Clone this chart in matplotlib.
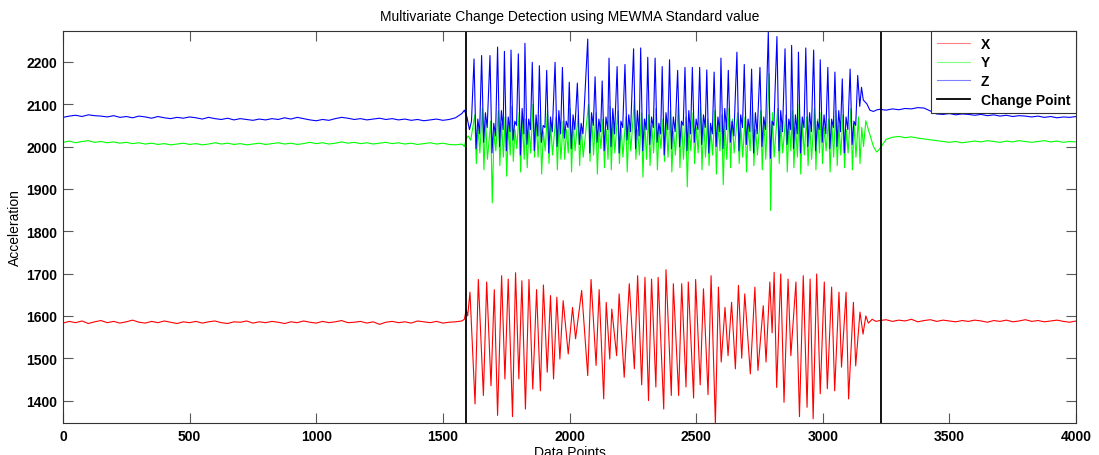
import matplotlib
matplotlib.use('Agg')
import matplotlib.pyplot as plt
import numpy as np

plt.rcParams['font.family'] = ['Liberation Sans', 'DejaVu Sans']

# Quiet part before the first change point (read every 25 points)
x_pre = [1583, 1587, 1584, 1588, 1582, 1586, 1589, 1584, 1587, 1583,
         1586, 1590, 1585, 1583, 1587, 1584, 1588, 1585, 1582, 1586,
         1584, 1587, 1583, 1586, 1588, 1584, 1582, 1586, 1585, 1588,
         1583, 1586, 1584, 1587, 1585, 1582, 1586, 1584, 1588, 1585,
         1583, 1587, 1584, 1586, 1589, 1584, 1585, 1587, 1583, 1586,
         1580, 1585, 1587, 1584, 1586, 1583, 1588, 1586, 1584, 1587,
         1583, 1585, 1586, 1588]
y_pre = [2010, 2013, 2009, 2012, 2014, 2010, 2012, 2009, 2011, 2008,
         2010, 2007, 2009, 2006, 2008, 2005, 2007, 2004, 2006, 2008,
         2005, 2007, 2004, 2006, 2009, 2006, 2008, 2005, 2007, 2004,
         2006, 2008, 2005, 2007, 2009, 2006, 2008, 2005, 2007, 2010,
         2007, 2009, 2006, 2008, 2011, 2008, 2010, 2007, 2009, 2006,
         2008, 2010, 2007, 2009, 2006, 2008, 2005, 2007, 2009, 2006,
         2008, 2005, 2004, 2006]
z_pre = [2069, 2072, 2074, 2071, 2075, 2073, 2072, 2070, 2073, 2069,
         2071, 2068, 2072, 2070, 2067, 2071, 2068, 2066, 2069, 2067,
         2070, 2068, 2065, 2069, 2066, 2064, 2067, 2063, 2066, 2064,
         2062, 2065, 2063, 2066, 2064, 2068, 2065, 2069, 2066, 2063,
         2061, 2064, 2062, 2066, 2069, 2067, 2064, 2066, 2063, 2065,
         2067, 2064, 2066, 2063, 2065, 2062, 2064, 2061, 2063, 2065,
         2062, 2064, 2068, 2078]

# Around the first change point
x_trans_t = [1585, 1592, 1598]
x_trans = [1592, 1615, 1600]
y_trans_t = [1585, 1592, 1600, 1610]
y_trans = [2000, 2018, 2025, 2015]
z_trans_t = [1585, 1595, 1605, 1613]
z_trans = [2086, 2070, 2040, 2060]

# Active part: one entry per Z spike
cycle_t = [1623, 1653, 1686, 1716, 1743, 1769, 1798, 1824, 1853, 1881,
           1910, 1943, 1972, 1999, 2031, 2072, 2101, 2129, 2156, 2188,
           2219, 2253, 2281, 2309, 2338, 2366, 2395, 2427, 2456, 2485,
           2514, 2542, 2571, 2598, 2627, 2661, 2690, 2719, 2752, 2785,
           2819, 2851, 2877, 2904, 2933, 2964, 2990, 3020, 3048, 3077,
           3108, 3138]
z_peak = [2207, 2215, 2215, 2235, 2225, 2228, 2219, 2244, 2199, 2191,
          2180, 2199, 2187, 2152, 2150, 2254, 2165, 2155, 2209, 2189,
          2194, 2231, 2233, 2211, 2209, 2189, 2205, 2180, 2187, 2187,
          2187, 2181, 2176, 2209, 2180, 2223, 2194, 2183, 2187, 2272,
          2260, 2231, 2239, 2223, 2233, 2228, 2205, 2187, 2176, 2160,
          2183, 2168]
z_low = [1995, 2010, 1985, 2000, 1990, 2015, 1980, 2005, 1990, 2010,
         1985, 2000, 2020, 1995, 2005, 1985, 2010, 1990, 2000, 1985,
         2015, 1995, 1990, 2005, 2010, 1980, 1995, 2000, 1990, 2010,
         2005, 1985, 2000, 1995, 2010, 1990, 2005, 1985, 2000, 1972,
         1990, 2005, 1995, 1985, 2000, 1990, 2010, 1995, 2000, 1985,
         2005, 2095]
z_bump = [2065, 2080, 2055, 2085, 2070, 2060, 2090, 2065, 2075, 2050,
          2070, 2085, 2060, 2075, 2055, 2080, 2065, 2070, 2090, 2060,
          2075, 2085, 2065, 2070, 2055, 2080, 2070, 2060, 2085, 2065,
          2075, 2055, 2070, 2090, 2060, 2075, 2065, 2080, 2070, 2060,
          2085, 2065, 2075, 2070, 2080, 2060, 2075, 2065, 2085, 2070,
          2060, 2140]
z_rise = [2030, 2045, 2025, 2040, 2035, 2050, 2030, 2040, 2025, 2045,
          2035, 2030, 2045, 2040, 2030, 2050, 2035, 2040, 2030, 2045,
          2035, 2025, 2040, 2045, 2030, 2040, 2035, 2050, 2030, 2040,
          2045, 2030, 2035, 2040, 2025, 2045, 2035, 2030, 2040, 2050,
          2035, 2040, 2030, 2045, 2035, 2040, 2030, 2045, 2035, 2040,
          2050, 2110]
y_hi = [2075, 2090, 2060, 2085, 2070, 2095, 2080, 2065, 2100, 2075,
        2085, 2070, 2060, 2090, 2075, 2100, 2080, 2065, 2095, 2085,
        2070, 2110, 2080, 2075, 2090, 2065, 2085, 2100, 2070, 2080,
        2095, 2065, 2085, 2075, 2090, 2080, 2070, 2095, 2085, 2172,
        2090, 2075, 2085, 2100, 2070, 2090, 2080, 2065, 2085, 2075,
        2090, 2070]
y_lo = [1960, 1945, 1867, 1955, 1930, 1965, 1940, 1950, 1975, 1935,
        1960, 1945, 1970, 1940, 1955, 1965, 1935, 1950, 1945, 1960,
        1940, 1970, 1928, 1955, 1945, 1965, 1940, 1950, 1905, 1960,
        1945, 1955, 1935, 1910, 1950, 1960, 1940, 1955, 1945, 1849,
        1960, 1940, 1950, 1935, 1955, 1945, 1960, 1940, 1955, 1950,
        1945, 1960]
y_mid = [2045, 2060, 2035, 2055, 2050, 2040, 2065, 2045, 2055, 2035,
         2050, 2060, 2040, 2055, 2045, 2065, 2050, 2040, 2060, 2045,
         2055, 2040, 2065, 2050, 2045, 2060, 2035, 2055, 2050, 2045,
         2060, 2040, 2055, 2050, 2065, 2045, 2050, 2040, 2060, 2080,
         2050, 2060, 2045, 2055, 2050, 2065, 2045, 2055, 2050, 2040,
         2055, 2045]
y_lo2 = [1985, 1970, 1990, 1975, 1980, 1995, 1970, 1985, 1975, 1990,
         1980, 1970, 1985, 1990, 1975, 1980, 1995, 1970, 1985, 1975,
         1990, 1980, 1970, 1985, 1995, 1975, 1980, 1970, 1990, 1985,
         1975, 1980, 1990, 1970, 1985, 1975, 1990, 1980, 1970, 1975,
         1985, 1990, 1975, 1980, 1970, 1985, 1990, 1975, 1980, 1985,
         1975, 2000]

# X peaks and troughs in the active part
x_ext_t = [1607, 1627, 1640, 1660, 1673, 1690, 1703, 1716, 1732, 1745,
           1758, 1775, 1787, 1800, 1812, 1826, 1840, 1855, 1870, 1885,
           1897, 1912, 1925, 1937, 1950, 1962, 1975, 1995, 2012, 2024,
           2048, 2072, 2085, 2105, 2117, 2135, 2145, 2159, 2167, 2186,
           2196, 2216, 2236, 2256, 2269, 2285, 2298, 2312, 2324, 2341,
           2350, 2372, 2381, 2402, 2410, 2431, 2443, 2460, 2469, 2490,
           2498, 2516, 2529, 2547, 2559, 2576, 2588, 2599, 2614, 2626,
           2640, 2655, 2667, 2680, 2692, 2714, 2732, 2744, 2765, 2776,
           2791, 2800, 2808, 2818, 2834, 2847, 2863, 2874, 2894, 2908,
           2923, 2938, 2950, 2962, 2976, 2990, 3006, 3018, 3035, 3047,
           3064, 3074, 3092, 3102, 3121, 3130, 3147, 3159]
x_ext = [1656, 1392, 1686, 1412, 1680, 1435, 1662, 1365, 1695, 1451,
         1687, 1362, 1702, 1451, 1683, 1380, 1686, 1427, 1662, 1423,
         1673, 1467, 1648, 1451, 1644, 1498, 1636, 1510, 1620, 1546,
         1660, 1459, 1686, 1483, 1662, 1404, 1632, 1498, 1616, 1506,
         1652, 1455, 1676, 1475, 1695, 1437, 1691, 1400, 1687, 1432,
         1691, 1380, 1709, 1412, 1676, 1412, 1676, 1432, 1680, 1406,
         1686, 1437, 1664, 1414, 1695, 1345, 1668, 1491, 1620, 1506,
         1632, 1475, 1672, 1500, 1652, 1463, 1668, 1471, 1624, 1491,
         1680, 1560, 1703, 1431, 1699, 1396, 1687, 1506, 1680, 1362,
         1695, 1384, 1687, 1357, 1699, 1416, 1680, 1428, 1668, 1423,
         1656, 1479, 1656, 1404, 1632, 1482, 1609, 1557]

# Settling down before the second change point
x_tail_t = [3170, 3180, 3195, 3210]
x_tail = [1600, 1583, 1592, 1587]
y_tail_t = [3170, 3185, 3200, 3213]
y_tail = [2061, 2030, 2000, 1987]
z_tail_t = [3174, 3186, 3200, 3215]
z_tail = [2101, 2086, 2083, 2087]

# Quiet part after the second change point
x_post = [1589, 1591, 1587, 1590, 1588, 1592, 1586, 1589, 1591, 1587,
          1590, 1588, 1586, 1589, 1587, 1590, 1588, 1585, 1589, 1587,
          1590, 1586, 1588, 1591, 1587, 1589, 1586, 1588, 1590, 1587,
          1585, 1588]
y_post = [1995, 2017, 2022, 2024, 2021, 2023, 2020, 2018, 2016, 2014,
          2012, 2010, 2012, 2009, 2011, 2013, 2011, 2014, 2012, 2010,
          2013, 2011, 2014, 2012, 2010, 2012, 2014, 2011, 2013, 2010,
          2012, 2011]
z_post = [2088, 2086, 2089, 2087, 2090, 2089, 2092, 2091, 2084, 2077,
          2076, 2078, 2075, 2077, 2076, 2074, 2076, 2073, 2075, 2072,
          2074, 2071, 2073, 2072, 2070, 2072, 2069, 2071, 2068, 2070,
          2069, 2071]

change_points = [1590, 3229]

# put the pieces together
cyc = np.array(cycle_t)
t_pre = np.linspace(0, 1575, len(x_pre))
t_post = np.linspace(3225, 4000, len(x_post))

x_t = np.concatenate([t_pre, x_trans_t, x_ext_t, x_tail_t, t_post])
x_v = np.concatenate([x_pre, x_trans, x_ext, x_tail, x_post])

y_t = np.concatenate([t_pre, y_trans_t,
                      np.column_stack([cyc + 3, cyc + 9, cyc + 16, cyc + 23]).ravel(),
                      y_tail_t, t_post])
y_v = np.concatenate([y_pre, y_trans,
                      np.column_stack([y_hi, y_lo, y_mid, y_lo2]).ravel(),
                      y_tail, y_post])

z_t = np.concatenate([t_pre, z_trans_t,
                      np.column_stack([cyc, cyc + 8, cyc + 15, cyc + 22]).ravel(),
                      z_tail_t, t_post])
z_v = np.concatenate([z_pre, z_trans,
                      np.column_stack([z_peak, z_low, z_bump, z_rise]).ravel(),
                      z_tail, z_post])

fig = plt.figure(figsize=(10.99, 4.56), dpi=100)
ax = fig.add_axes([0.0573, 0.0702, 0.9218, 0.8596])

ax.plot(x_t, x_v, color='#ff0000', lw=0.8, label='X')
ax.plot(y_t, y_v, color='#00ff00', lw=0.8, label='Y')
ax.plot(z_t, z_v, color='#0000ff', lw=0.8, label='Z')
ax.axvline(change_points[0], color='k', lw=1.3, label='Change Point')
ax.axvline(change_points[1], color='k', lw=1.3)

ax.set_xlim(0, 4000)
ax.set_ylim(1347, 2273)
ax.set_xticks(np.arange(0, 4001, 500))
ax.set_yticks(np.arange(1400, 2201, 100))
ax.tick_params(direction='in', top=True, right=True, length=7, width=0.8,
               color='0.35', labelsize=10, pad=4)
for lab in ax.get_xticklabels() + ax.get_yticklabels():
    lab.set_fontweight('bold')
for s in ax.spines.values():
    s.set_color('0.2')
    s.set_linewidth(0.8)

ax.set_title('Multivariate Change Detection using MEWMA Standard value',
             fontsize=10, pad=8)
# the reference crops this label at the bottom edge
ax.set_xlabel('Data Points', fontsize=10, labelpad=2)
ax.set_ylabel('Acceleration', fontsize=10, labelpad=3)

leg = ax.legend(loc='upper right', borderaxespad=0, fancybox=False,
                framealpha=1, edgecolor='0.2', handlelength=2.4,
                labelspacing=0.35, prop={'weight': 'bold', 'size': 10})
leg.get_frame().set_linewidth(0.8)
# legend samples look pale in the reference
for h, c in zip(leg.get_lines(), ['#ff8080', '#80ff80', '#8080ff', 'k']):
    h.set_color(c)

fig.set_facecolor('white')
fig.savefig('out.png', dpi=100)
